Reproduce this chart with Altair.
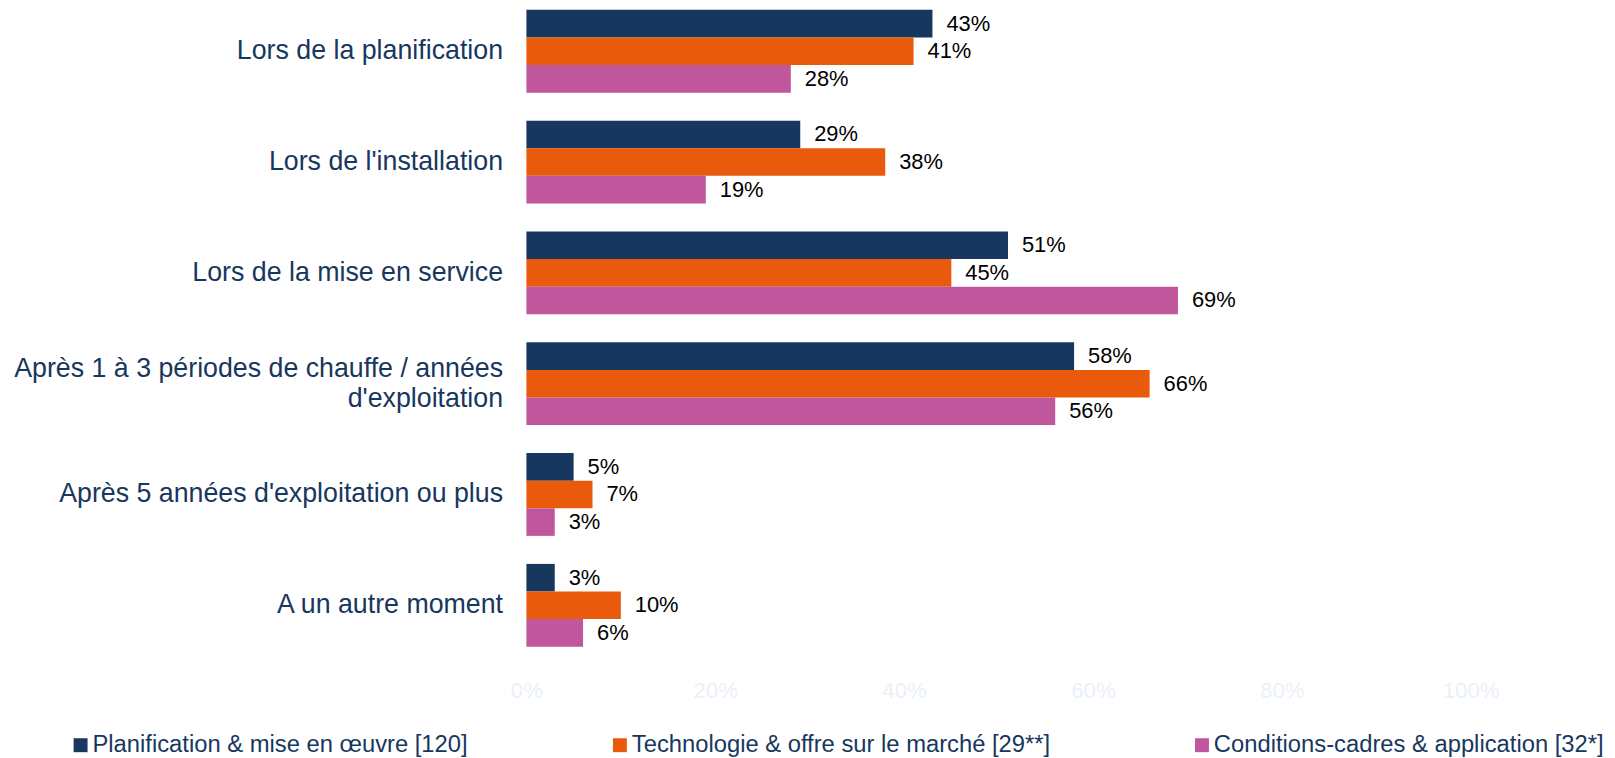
import altair as alt
import pandas as pd

categories = [
    "Lors de la planification",
    "Lors de l'installation",
    "Lors de la mise en service",
    "Après 1 à 3 périodes de chauffe / années\nd'exploitation",
    "Après 5 années d'exploitation ou plus",
    "A un autre moment",
]
series = [
    "Planification & mise en œuvre [120]",
    "Technologie & offre sur le marché [29**]",
    "Conditions-cadres & application [32*]",
]
planification = [43, 29, 51, 58, 5, 3]
technologie = [41, 38, 45, 66, 7, 10]
conditions = [28, 19, 69, 56, 3, 6]
colors = ["#17375E", "#E95A0C", "#C0569C"]
x_ticks = [0, 20, 40, 60, 80, 100]

rows = []
for s, vals in zip(series, [planification, technologie, conditions]):
    for c, v in zip(categories, vals):
        rows.append({"category": c, "series": s, "value": v})
df = pd.DataFrame(rows)

FONT = "Liberation Sans"

y_enc = alt.Y(
    "category:N",
    sort=categories,
    scale=alt.Scale(paddingInner=0.253, paddingOuter=0),
    axis=alt.Axis(
        title=None,
        labelExpr="split(datum.label, '\\n')",
        labelFontSize=26.9,
        labelFont=FONT,
        labelColor="#17375E",
        labelPadding=24,
        labelLimit=0,
        labelLineHeight=30,
        labelOffset={"condition": {"test": "indexof(datum.label, '\\n') >= 0", "value": -15}, "value": 0},
        ticks=False,
        domain=False,
        grid=False,
    ),
)
yoff = alt.YOffset("series:N", sort=series, scale=alt.Scale(paddingInner=0, paddingOuter=0))
x_enc = alt.X(
    "value:Q",
    scale=alt.Scale(domain=[0, 100], nice=False),
    axis=alt.Axis(
        title=None,
        values=x_ticks,
        labelExpr="datum.value + '%'",
        labelFontSize=22.4,
        labelFont=FONT,
        labelColor="#EAF1F9",
        labelPadding=33,
        labelFlush=False,
        ticks=False,
        domain=False,
        grid=False,
    ),
)

base = alt.Chart(df)

bars = base.mark_bar().encode(
    x=x_enc,
    y=y_enc,
    yOffset=yoff,
    color=alt.Color(
        "series:N",
        sort=series,
        scale=alt.Scale(domain=series, range=colors),
        legend=alt.Legend(
            title=None,
            orient="none",
            legendX=-460,
            legendY=727,
            direction="horizontal",
            columnPadding=140,
            symbolType="square",
            symbolSize=196,
            symbolStrokeWidth=0,
            labelFontSize=23.9,
            labelFont=FONT,
            labelColor="#17375E",
            labelOffset=0,
            labelLimit=0,
            padding=0,
        ),
    ),
)

labels = base.transform_calculate(lbl="datum.value + '%'").mark_text(
    align="left", baseline="middle", dx=14, fontSize=22, font=FONT, color="#000000"
).encode(
    x="value:Q",
    y=alt.Y("category:N", sort=categories),
    yOffset=alt.YOffset("series:N", sort=series),
    text="lbl:N",
)

chart = (
    alt.layer(bars, labels)
    .properties(
        width=949,
        height=640,
        autosize=alt.AutoSizeParams(type="none"),
        padding={"left": 521, "top": 0, "right": 137, "bottom": 110},
    )
    .configure_view(stroke=None)
)

chart.save("out.html", embed_options={"renderer": "svg", "actions": False})
